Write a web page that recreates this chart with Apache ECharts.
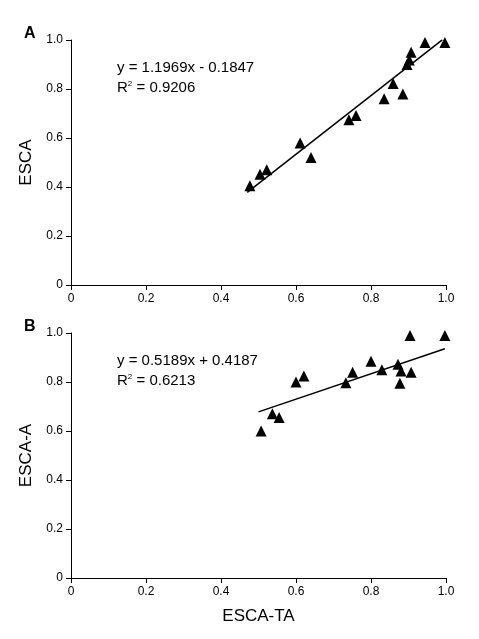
<!DOCTYPE html><html><head><meta charset="utf-8">
<script src="https://cdn.jsdelivr.net/npm/echarts@6/dist/echarts.min.js"></script>
<style>html,body{margin:0;background:#fff}#c{width:479px;height:639px}</style></head><body><div id="c"></div><script>
const xTicks=[0,0.2,0.4,0.6,0.8,1.0];
const aX=[0.477,0.504,0.522,0.611,0.640,0.741,0.760,0.835,0.859,0.885,0.896,0.902,0.907,0.944,0.997];
const aY=[0.405,0.452,0.470,0.580,0.520,0.675,0.692,0.760,0.822,0.780,0.900,0.918,0.950,0.990,0.990];
const bX=[0.507,0.537,0.555,0.600,0.621,0.733,0.751,0.800,0.829,0.872,0.877,0.880,0.904,0.907,0.997];
const bY=[0.600,0.670,0.655,0.800,0.825,0.797,0.840,0.885,0.850,0.872,0.795,0.845,0.990,0.840,0.990];
const lineA={slope:1.1969,icpt:-0.1847,x0:0.47,x1:0.99};
const lineB={slope:0.5189,icpt:0.4187,x0:0.50,x1:0.997};
const F='Liberation Sans, Arial, sans-serif';
const pts=(xs,ys)=>xs.map((x,i)=>[x,ys[i]]);
const ln=l=>[[l.x0,l.slope*l.x0+l.icpt],[l.x1,l.slope*l.x1+l.icpt]];
const ax=(name,gi,isX)=>({type:'value',gridIndex:gi,min:0,max:1,interval:0.2,
 name:name,nameLocation:'middle',nameGap:isX?30:36,nameTextStyle:{fontFamily:F,fontSize:17,color:'#000'},
 axisLine:{show:true,onZero:false,lineStyle:{color:'#000'}},axisTick:{show:true,inside:false,length:5,lineStyle:{color:'#000'}},
 splitLine:{show:false},axisLabel:{fontFamily:F,fontSize:12,color:'#000',formatter:v=>v===0?'0':(v===1?'1.0':String(v))}});
const chart=echarts.init(document.getElementById('c'));
chart.setOption({animation:false,
 grid:[{left:71,top:40,width:375,height:245},{left:71,top:333,width:375,height:245}],
 xAxis:[ax('',0,true),ax('ESCA-TA',1,true)],
 yAxis:[ax('ESCA',0,false),ax('ESCA-A',1,false)],
 graphic:[
  {type:'text',left:24,top:26,style:{text:'A',font:'bold 16px '+F,fill:'#000'}},
  {type:'text',left:24,top:319,style:{text:'B',font:'bold 16px '+F,fill:'#000'}},
  {type:'text',left:117,top:60,style:{text:'y = 1.1969x - 0.1847',font:'15px '+F,fill:'#000'}},
  {type:'text',left:117,top:80,style:{rich:{a:{font:'15px '+F,fill:'#000'},s:{font:'8px '+F,fill:'#000',verticalAlign:'top'}},text:'{a|R}{s|2}{a| = 0.9206}'}},
  {type:'text',left:117,top:353,style:{text:'y = 0.5189x + 0.4187',font:'15px '+F,fill:'#000'}},
  {type:'text',left:117,top:373,style:{rich:{a:{font:'15px '+F,fill:'#000'},s:{font:'8px '+F,fill:'#000',verticalAlign:'top'}},text:'{a|R}{s|2}{a| = 0.6213}'}}
 ],
 series:[
  {type:'line',xAxisIndex:0,yAxisIndex:0,data:ln(lineA),symbol:'none',lineStyle:{color:'#000',width:1.5}},
  {type:'line',xAxisIndex:1,yAxisIndex:1,data:ln(lineB),symbol:'none',lineStyle:{color:'#000',width:1.5}},
  {type:'scatter',xAxisIndex:0,yAxisIndex:0,data:pts(aX,aY),symbol:'triangle',symbolSize:11,itemStyle:{color:'#000',opacity:1}},
  {type:'scatter',xAxisIndex:1,yAxisIndex:1,data:pts(bX,bY),symbol:'triangle',symbolSize:11,itemStyle:{color:'#000',opacity:1}}
 ]});
</script></body></html>
